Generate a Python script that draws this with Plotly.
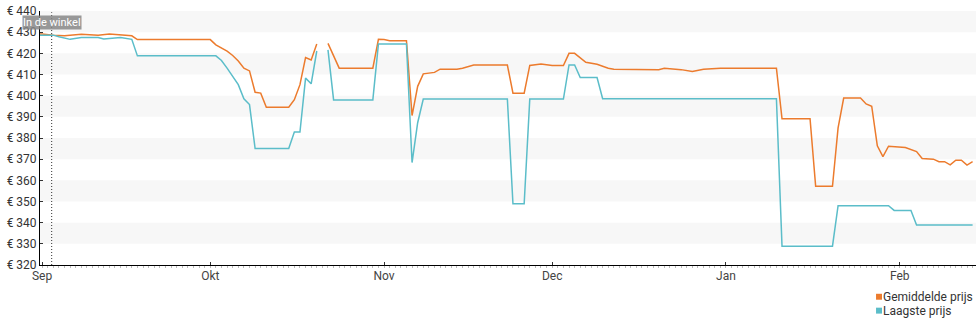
import plotly.graph_objects as go

# Gemiddelde prijs (average price) – vertices of the daily series
avg_dates = [
    "2023-08-31", "2023-09-01", "2023-09-03", "2023-09-05", "2023-09-08", "2023-09-11",
    "2023-09-13", "2023-09-15", "2023-09-17", "2023-09-18", "2023-10-01", "2023-10-02",
    "2023-10-04", "2023-10-05", "2023-10-06", "2023-10-07", "2023-10-08", "2023-10-09",
    "2023-10-10", "2023-10-11", "2023-10-15", "2023-10-16", "2023-10-17", "2023-10-18",
    "2023-10-19", "2023-10-20", "2023-10-21", "2023-10-22", "2023-10-23", "2023-10-24",
    "2023-10-30", "2023-10-31", "2023-11-01", "2023-11-02", "2023-11-05", "2023-11-06",
    "2023-11-07", "2023-11-08", "2023-11-10", "2023-11-11", "2023-11-14", "2023-11-15",
    "2023-11-17", "2023-11-23", "2023-11-24", "2023-11-26", "2023-11-27", "2023-11-29",
    "2023-12-01", "2023-12-03", "2023-12-04", "2023-12-05", "2023-12-07", "2023-12-09",
    "2023-12-11", "2023-12-12", "2023-12-20", "2023-12-21", "2023-12-24", "2023-12-26",
    "2023-12-28", "2023-12-31", "2024-01-10", "2024-01-11", "2024-01-16", "2024-01-17",
    "2024-01-20", "2024-01-21", "2024-01-22", "2024-01-25", "2024-01-26", "2024-01-27",
    "2024-01-28", "2024-01-29", "2024-01-30", "2024-02-02", "2024-02-04", "2024-02-05",
    "2024-02-07", "2024-02-08", "2024-02-09", "2024-02-10", "2024-02-11", "2024-02-12",
    "2024-02-13", "2024-02-14",
]
avg_prices = [
    429.1, 429.1, 428.5, 428.3, 429.0, 428.6,
    429.1, 428.7, 428.3, 426.5, 426.5, 424.0,
    421.0, 419.0, 416.4, 413.0, 411.7, 401.6,
    401.2, 394.5, 394.5, 398.1, 405.2, 418.0,
    416.9, 424.4, None, 424.7, 419.2, 413.0,
    413.0, 426.6, 426.5, 426.0, 426.0, 390.6,
    404.4, 410.3, 411.0, 412.5, 412.5, 413.0,
    414.5, 414.5, 401.2, 401.2, 414.3, 415.0,
    414.2, 414.2, 420.0, 420.0, 415.8, 414.8,
    413.0, 412.5, 412.3, 413.0, 412.3, 411.4,
    412.5, 413.0, 413.0, 389.1, 389.1, 357.2,
    357.2, 384.8, 398.9, 398.9, 396.1, 395.0,
    376.3, 371.2, 376.1, 375.5, 373.6, 370.3,
    370.0, 368.8, 368.8, 367.3, 369.5, 369.5,
    367.2, 368.8,
]

# Laagste prijs (lowest price) – vertices of the daily series
low_dates = [
    "2023-08-31", "2023-09-01", "2023-09-03", "2023-09-04", "2023-09-06", "2023-09-08",
    "2023-09-11", "2023-09-12", "2023-09-14", "2023-09-15", "2023-09-17", "2023-09-18",
    "2023-10-02", "2023-10-03", "2023-10-04", "2023-10-05", "2023-10-06", "2023-10-07",
    "2023-10-08", "2023-10-09", "2023-10-15", "2023-10-16", "2023-10-17", "2023-10-18",
    "2023-10-19", "2023-10-20", "2023-10-21", "2023-10-22", "2023-10-23", "2023-10-30",
    "2023-10-31", "2023-11-05", "2023-11-06", "2023-11-07", "2023-11-08", "2023-11-23",
    "2023-11-24", "2023-11-26", "2023-11-27", "2023-12-03", "2023-12-04", "2023-12-05",
    "2023-12-06", "2023-12-09", "2023-12-10", "2024-01-10", "2024-01-11", "2024-01-20",
    "2024-01-21", "2024-01-30", "2024-01-31", "2024-02-03", "2024-02-04", "2024-02-14",
]
low_prices = [
    428.6, 428.6, 428.6, 427.8, 426.6, 427.5,
    427.5, 426.8, 427.5, 427.5, 426.6, 418.8,
    418.8, 416.6, 413.0, 409.0, 405.2, 398.5,
    395.8, 375.0, 375.0, 382.8, 382.8, 408.3,
    405.6, 421.1, None, 421.6, 398.0, 398.0,
    424.4, 424.4, 368.4, 387.2, 398.4, 398.4,
    348.9, 348.9, 398.4, 398.4, 414.5, 414.5,
    408.6, 408.6, 398.6, 398.6, 328.9, 328.9,
    348.0, 348.0, 345.8, 345.8, 338.9, 338.9,
]

series_names = ["Gemiddelde prijs", "Laagste prijs"]
series_colors = ["#ec7b2d", "#5bbdc9"]

month_ticks = ["2023-09-01", "2023-10-01", "2023-11-01", "2023-12-01", "2024-01-01", "2024-02-01"]
month_labels = ["Sep", "Okt", "Nov", "Dec", "Jan", "Feb"]

price_ticks = [320, 330, 340, 350, 360, 370, 380, 390, 400, 410, 420, 430, 440]
price_labels = ["€ %d" % p for p in price_ticks]
band_starts = [330, 350, 370, 390, 410, 430]

store_date = "2023-09-02 17:00"
store_label = "In de winkel"

FONT = "Roboto, 'Open Sans', sans-serif"

fig = go.Figure()

fig.add_trace(go.Scatter(
    x=avg_dates, y=avg_prices, mode="lines", name=series_names[0],
    line=dict(color=series_colors[0], width=1.5), connectgaps=False, showlegend=False,
))
fig.add_trace(go.Scatter(
    x=low_dates, y=low_prices, mode="lines", name=series_names[1],
    line=dict(color=series_colors[1], width=1.5), connectgaps=False, showlegend=False,
))

# alternating light bands
for b in band_starts:
    fig.add_shape(type="rect", xref="paper", yref="y", x0=0, x1=1, y0=b, y1=b + 10,
                  fillcolor="#f7f7f7", line=dict(width=0), layer="below")

# "in de winkel" marker
fig.add_shape(type="line", xref="x", yref="paper", x0=store_date, x1=store_date, y0=0, y1=0.995,
              line=dict(color="#333333", width=1, dash="1px,2px"))
fig.add_annotation(x=store_date, y=0.956, xref="x", yref="paper", text=store_label,
                   showarrow=False, font=dict(family=FONT, size=11, color="#ffffff"),
                   bgcolor="rgba(135,135,135,0.85)", borderpad=0, xanchor="center", yanchor="middle")

# legend, bottom right
legend_rows = [(-0.125, -0.1133, -0.1367), (-0.1797, -0.168, -0.1914)]
for (yc, ya, yb), name, col in zip(legend_rows, series_names, series_colors):
    fig.add_shape(type="rect", xref="paper", yref="paper", x0=0.8932, x1=0.8996, y0=yb, y1=ya,
                  fillcolor=col, line=dict(width=0))
    fig.add_annotation(x=0.8985, y=yc, xref="paper", yref="paper", text=name, showarrow=False,
                       xanchor="left", yanchor="middle",
                       font=dict(family=FONT, size=12, color="#333333"))

fig.update_layout(
    width=980, height=325,
    margin=dict(l=40, r=4, t=9, b=60),
    plot_bgcolor="#ffffff", paper_bgcolor="#ffffff",
    font=dict(family=FONT, size=12, color="#444444"),
    showlegend=False,
)
fig.update_xaxes(
    type="date", range=["2023-08-31 15:00", "2024-02-14 14:30"],
    tickvals=month_ticks, ticktext=month_labels,
    showgrid=False, zeroline=False,
    showline=True, linecolor="#000000", linewidth=1,
    ticks="inside", ticklen=3, tickcolor="#333333",
    minor=dict(dtick=86400000, ticks="outside", ticklen=2, tickcolor="#bbbbbb", showgrid=False),
    tickfont=dict(family=FONT, size=12, color="#444444"),
)
fig.update_yaxes(
    range=[320, 440], tickvals=price_ticks, ticktext=price_labels,
    showgrid=False, zeroline=False,
    showline=True, linecolor="#000000", linewidth=1,
    ticks="inside", ticklen=3, tickcolor="#333333",
    tickfont=dict(family=FONT, size=12, color="#333333"),
)

fig.write_html("out.html")
